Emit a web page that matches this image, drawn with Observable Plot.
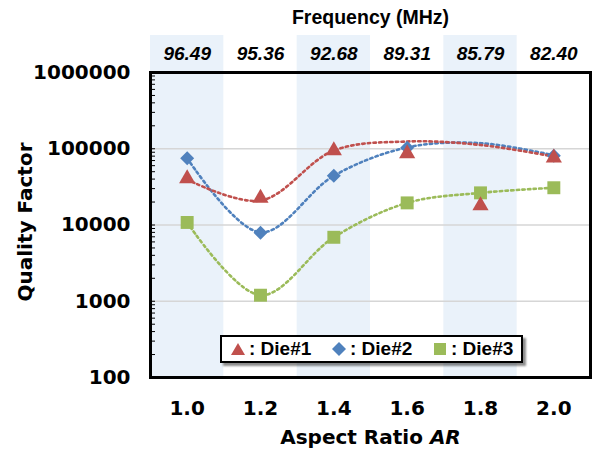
<!DOCTYPE html>
<html>
<head>
<meta charset="utf-8">
<script src="https://cdn.jsdelivr.net/npm/d3@7"></script>
<script src="https://cdn.jsdelivr.net/npm/@observablehq/plot@0.6"></script>
<style>
  html, body { margin: 0; padding: 0; background: #fff; }
  #wrap { position: relative; width: 595px; height: 453px; overflow: hidden; }
  #legend { position: absolute; left: 220px; top: 335px; width: 299px; height: 24px;
    border: 2px solid #000; background: #fff; box-shadow: 3px 3px 2px rgba(0,0,0,0.45);
    font: bold 19px "Liberation Sans", Arial, sans-serif; color: #000; }
  .item { position: absolute; top: 0; height: 24px; line-height: 24px; white-space: nowrap; }
  .item svg { position: absolute; top: 5px; left: 0; }
  .item span { position: absolute; left: 18px; top: 0; }
</style>
</head>
<body>
<div id="wrap"></div>
<script>
// ---- data ----
const aspectRatio = [1.0, 1.2, 1.4, 1.6, 1.8, 2.0];
const frequencyMHz = ["96.49", "95.36", "92.68", "89.31", "85.79", "82.40"];
const shadedAR = [1.0, 1.4, 1.8];
const die1Q = [40700, 22500, 94800, 86700, 18000, 76000];
const die2Q = [75200, 7900, 44200, 102800, null, 81000];
const die3Q = [10800, 1200, 6900, 19500, 26400, 30800];
// smoothed trend curves (as drawn in the reference)
const die1Trend = [39500, 20900, 94800, 124500, 112000, 79000];
const die2Trend = [75200, 8000, 44200, 104000, 118300, 82000];
const die3Trend = [10800, 1200, 6900, 19500, 26400, 30800];
const yTickValues = [100, 1000, 10000, 100000, 1000000];
const gridValues = [1000, 10000, 100000];
const seriesNames = ["Die#1", "Die#2", "Die#3"];
const seriesColors = ["#C0504D", "#4F81BD", "#9BBB59"];
const xTitle = "Aspect Ratio ";
const xTitleItalic = "AR";
const yTitle = "Quality Factor";
const topTitle = "Frequency (MHz)";

// ---- build tables ----
const toRows = (vals, name) => aspectRatio.map((a, i) => ({ar: a, q: vals[i], series: name})).filter(d => d.q != null);
const pts1 = toRows(die1Q, seriesNames[0]);
const pts2 = toRows(die2Q, seriesNames[1]);
const pts3 = toRows(die3Q, seriesNames[2]);
const tr1 = toRows(die1Trend, seriesNames[0]);
const tr2 = toRows(die2Trend, seriesNames[1]);
const tr3 = toRows(die3Trend, seriesNames[2]);
const minorTicks = [];
for (let e = 2; e < 6; e++) for (let m = 1; m < 10; m++) minorTicks.push(m * 10 ** e);
const freqRows = aspectRatio.map((a, i) => ({ar: a, f: frequencyMHz[i]}));

const step = aspectRatio[1] - aspectRatio[0];
const W = 595, H = 453, mL = 150, mR = 5, mT = 72, mB = 76;
const digitFont = "DejaVu Sans";
const textFont = "Liberation Sans";
const dotted = {strokeWidth: 2.6, strokeDasharray: "2.4 3.2", curve: "catmull-rom"};

const chart = Plot.plot({
  width: W, height: H,
  marginLeft: mL, marginRight: mR, marginTop: mT, marginBottom: mB,
  x: {type: "linear", domain: [aspectRatio[0] - step / 2, aspectRatio[aspectRatio.length - 1] + step / 2], axis: null},
  y: {type: "log", domain: [yTickValues[0], yTickValues[yTickValues.length - 1]], axis: null},
  style: {fontFamily: textFont, background: "white", overflow: "visible", color: "black"},
  marks: [
    Plot.rect(shadedAR, {x1: d => d - step / 2, x2: d => d + step / 2, fill: "#EAF2FA", insetTop: -37}),
    Plot.ruleY(gridValues, {stroke: "#d6d6d6", strokeWidth: 1.5}),
    Plot.ruleY(minorTicks, {stroke: "#000", strokeWidth: 1, insetRight: W - mL - mR - 5}),
    Plot.frame({stroke: "#000", strokeWidth: 3}),
    Plot.line(tr2, {x: "ar", y: "q", stroke: seriesColors[1], ...dotted}),
    Plot.line(tr3, {x: "ar", y: "q", stroke: seriesColors[2], ...dotted}),
    Plot.line(tr1, {x: "ar", y: "q", stroke: seriesColors[0], ...dotted}),
    Plot.dot(pts2, {x: "ar", y: "q", symbol: "diamond2", r: 6.3, fill: seriesColors[1], stroke: null}),
    Plot.dot(pts3, {x: "ar", y: "q", symbol: "square", r: 7.3, fill: seriesColors[2], stroke: null}),
    Plot.dot(pts1, {x: "ar", y: "q", symbol: "triangle", r: 6.0, fill: seriesColors[0], stroke: null}),
    // y tick labels
    Plot.axisY({ticks: yTickValues, tickFormat: d => String(d), tickSize: 0, tickPadding: 20,
      fontSize: 20, fontWeight: "bold", fontFamily: digitFont, label: null}),
    // x tick labels
    Plot.axisX({ticks: aspectRatio, tickFormat: d => d.toFixed(1), tickSize: 0, tickPadding: 23,
      fontSize: 20, fontWeight: "bold", fontFamily: digitFont, label: null}),
    // frequency labels
    Plot.text(freqRows, {x: "ar", text: "f", frameAnchor: "top", dy: -19, lineAnchor: "middle",
      fontSize: 19, fontWeight: "bold", fontStyle: "italic", fontFamily: textFont, fill: "#000"}),
    Plot.text([topTitle], {frameAnchor: "top", dy: -55, lineAnchor: "middle",
      fontSize: 19.5, fontWeight: "bold", fontFamily: textFont, fill: "#000"}),
    Plot.text([yTitle], {frameAnchor: "left", dx: -125, dy: -3, rotate: -90, lineAnchor: "middle", textAnchor: "middle",
      fontSize: 20, fontWeight: "bold", fontFamily: digitFont, fill: "#000"}),
    Plot.text([xTitle + xTitleItalic], {frameAnchor: "bottom", dy: 60, lineAnchor: "middle",
      fontSize: 20, fontWeight: "bold", fontFamily: digitFont, fill: "#000"})
  ]
});

// italic "AR" in the x-axis title
d3.select(chart).selectAll("text").each(function() {
  if (this.textContent === xTitle + xTitleItalic && !this.querySelector("tspan")) {
    this.textContent = xTitle;
    d3.select(this).append("tspan").attr("font-style", "italic").text(xTitleItalic);
  }
});

const wrap = document.getElementById("wrap");
wrap.appendChild(chart);

// legend
const legend = document.createElement("div");
legend.id = "legend";
const symbolPaths = [
  "M7,1 L14,13 L0,13 Z",
  "M7,0 L14,7 L7,14 L0,7 Z",
  "M1,1 L13,1 L13,13 L1,13 Z"
];
seriesNames.forEach((name, i) => {
  const it = document.createElement("div");
  it.className = "item";
  it.style.left = (9 + i * 101) + "px";
  it.innerHTML = `<svg width="14" height="14" viewBox="0 0 14 14"><path d="${symbolPaths[i]}" fill="${seriesColors[i]}"/></svg><span>: ${name}</span>`;
  legend.appendChild(it);
});
wrap.appendChild(legend);
</script>
</body>
</html>
